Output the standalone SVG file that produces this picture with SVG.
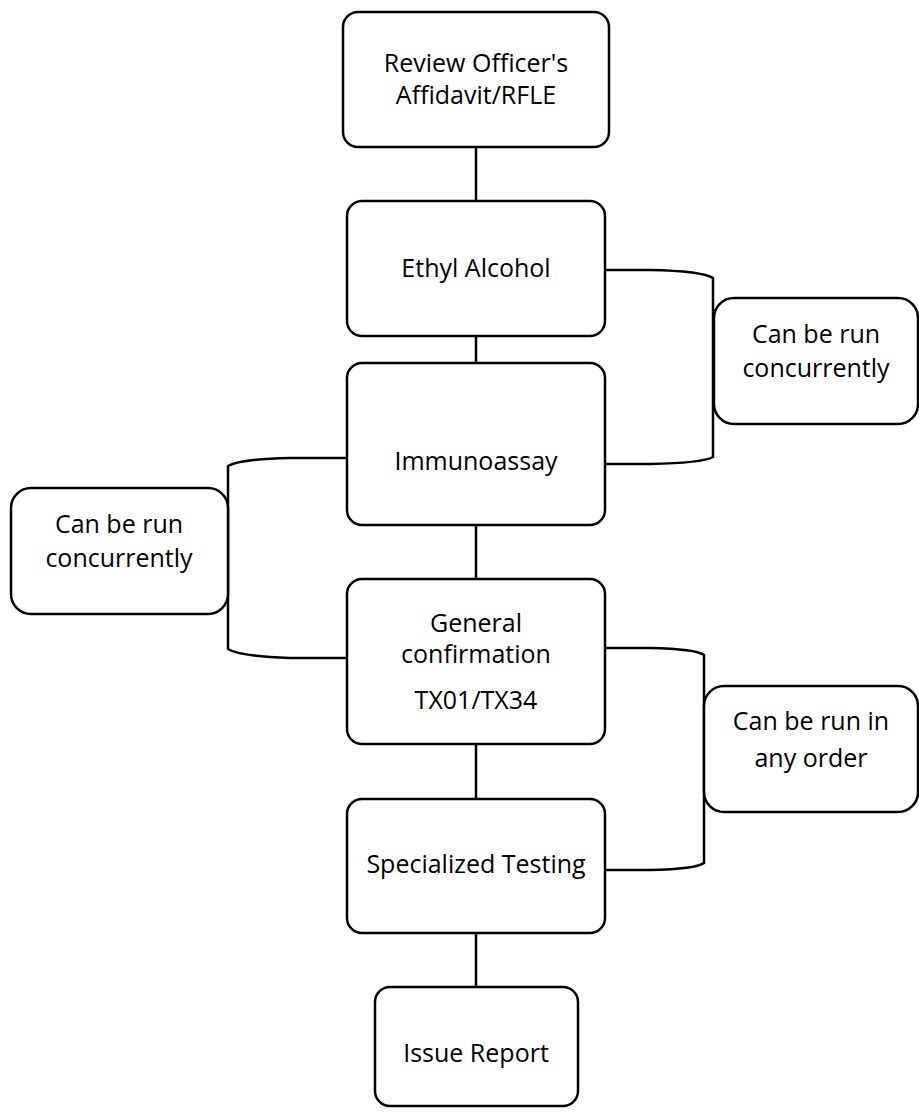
<svg xmlns="http://www.w3.org/2000/svg" width="919" height="1120" viewBox="0 0 919 1120">
<style>
.box{fill:#fff;stroke:#000;stroke-width:2.5}
.ln{fill:none;stroke:#000;stroke-width:2.5}
text{font-family:"Open Sans","Liberation Sans",sans-serif;font-size:25px;fill:#000;text-anchor:middle}
</style>
<rect width="919" height="1120" fill="#fff"/>
<g id="connectors">
<path class="ln" d="M476,147 V201 M476,336 V363 M476,525 V579 M476,744 V799 M476,933 V987"/>
<path class="ln" d="M605,270 L650,270 Q702,271 713,278 L713,457 Q702,463 650,464 L605,464"/>
<path class="ln" d="M347,458 L290,458 Q239,459 228,466 L228,649 Q239,656 290,658 L347,658"/>
<path class="ln" d="M605,648 L650,648 Q696,649 704,655 L704,863 Q696,869 650,870 L605,870"/>
</g>
<g id="review">
<rect class="box" x="343" y="12" width="266" height="135" rx="15"/>
<text x="476" y="72">Review Officer's</text>
<text x="476" y="104">Affidavit/RFLE</text>
</g>
<g id="ethyl">
<rect class="box" x="347" y="201" width="258" height="135" rx="15"/>
<text x="476" y="277">Ethyl Alcohol</text>
</g>
<g id="immuno">
<rect class="box" x="347" y="363" width="258" height="162" rx="15"/>
<text x="476" y="470">Immunoassay</text>
</g>
<g id="general">
<rect class="box" x="347" y="579" width="258" height="165" rx="15"/>
<text x="476" y="632">General</text>
<text x="476" y="663">confirmation</text>
<text x="476" y="709">TX01/TX34</text>
</g>
<g id="specialized">
<rect class="box" x="347" y="799" width="258" height="134" rx="15"/>
<text x="476" y="873">Specialized Testing</text>
</g>
<g id="issue">
<rect class="box" x="375" y="987" width="203" height="119" rx="15"/>
<text x="476" y="1062">Issue Report</text>
</g>
<g id="note1">
<rect class="box" x="714" y="298" width="204" height="126" rx="20"/>
<text x="816" y="343">Can be run</text>
<text x="816" y="377">concurrently</text>
</g>
<g id="note2">
<rect class="box" x="11" y="488" width="217" height="126" rx="20"/>
<text x="119" y="533">Can be run</text>
<text x="119" y="567">concurrently</text>
</g>
<g id="note3">
<rect class="box" x="704" y="686" width="214" height="126" rx="20"/>
<text x="811" y="730">Can be run in</text>
<text x="811" y="767">any order</text>
</g>
</svg>
